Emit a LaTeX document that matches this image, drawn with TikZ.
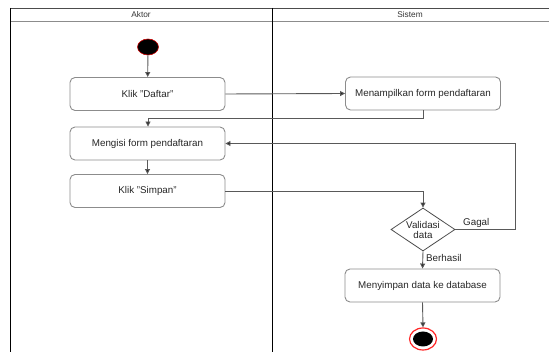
\documentclass[tikz,border=0pt]{standalone}
\usepackage{fontspec}
\setmainfont{Liberation Sans}
\usetikzlibrary{shapes.geometric,arrows.meta}
\begin{document}
\begin{tikzpicture}[x=1pt,y=-1pt,
  act/.style={draw=black!45,line width=0.9pt,rounded corners=5pt,minimum width=155pt,minimum height=33pt,inner sep=0pt,font=\fontsize{9.8}{11}\selectfont,text=black!85},
  conn/.style={draw=black!65,line width=0.9pt,-{Triangle[length=5pt,width=5pt,fill=black!85]}},
  lbl/.style={font=\fontsize{9.8}{11}\selectfont,text=black!85,inner sep=1pt}]
\useasboundingbox (0,0) rectangle (549,352);
% swimlanes
\draw[black!70,line width=0.8pt] (10,8) -- (549,8);
\draw[black!45,line width=1pt] (10,22) -- (549,22);
\draw[black,line width=0.8pt] (10,8) -- (10,352);
\draw[black,line width=0.8pt] (272,8) -- (272,352);
\node[font=\fontsize{8.3}{10}\selectfont,text=black!80] (hA) at (141,15) {Aktor};
\node[font=\fontsize{8.3}{10}\selectfont,text=black!80] (hS) at (410,15) {Sistem};
% nodes
\node[ellipse,fill=black,draw=red!80!black,line width=0.6pt,minimum width=21pt,minimum height=16pt,inner sep=0pt] (start) at (148,47) {};
\node[act] (daftar) at (147.5,94) {Klik "Daftar"};
\node[act] (tampil) at (423,93.5) {Menampilkan form pendaftaran};
\node[act] (isi) at (147.5,143.5) {Mengisi form pendaftaran};
\node[act] (simpan) at (147.5,191) {Klik "Simpan"};
\node[diamond,draw=black!70,line width=0.8pt,minimum width=64pt,minimum height=43pt,inner sep=0pt,aspect=1.5,font=\fontsize{9.8}{11}\selectfont,text=black!85,align=center] (valid) at (423,229.5) {Validasi\\[-1pt]data};
\node[act] (db) at (422.5,285.5) {Menyimpan data ke database};
\node[ellipse,draw=red!85,line width=1.2pt,minimum width=27pt,minimum height=22pt,inner sep=0pt] (end) at (423,339) {};
\node[ellipse,fill=black,minimum width=20pt,minimum height=15pt,inner sep=0pt] (endin) at (423,339) {};
% connectors
\draw[conn] (start) -- (daftar);
\draw[conn] (daftar.east) -- (tampil.west);
\draw[conn] (tampil.south) -- (423,118) -- (148,118) -- (isi.north -| 148,0);
\draw[conn] (isi) -- (simpan);
\draw[conn] (simpan.east) -- (423,191) -- (valid.north);
\draw[conn] (valid.east) -- (515,229.5) -- (515,143.5) -- (isi.east);
\draw[conn] (valid.south) -- (db.north);
\draw[conn] (db.south) -- (end.north);
\node[lbl,anchor=south west] (gagal) at (462,229) {Gagal};
\node[lbl,anchor=west] (berhasil) at (425,258) {Berhasil};
\end{tikzpicture}
\end{document}
